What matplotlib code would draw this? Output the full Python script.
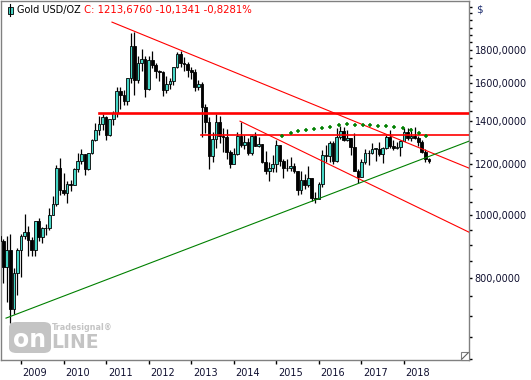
#Gold USD/OZ monthly candles-----------------------------
import matplotlib
matplotlib.use('Agg')
import matplotlib.pyplot as plt
from matplotlib.patches import Rectangle, FancyBboxPatch
from matplotlib.ticker import FixedLocator, NullFormatter

#data------------------------------------------
start_year = 2008.5          # first candle = Jul 2008
opens = [928, 913, 833, 884, 717, 815,
         884, 928, 942, 916, 884, 979, 927, 955, 955, 1003, 1040, 1182,
         1096, 1081, 1118, 1113, 1179, 1213, 1244, 1181, 1248, 1308, 1357, 1386,
         1421, 1332, 1410, 1439, 1556, 1536, 1500, 1628, 1826, 1620, 1722, 1746,
         1565, 1738, 1709, 1669, 1664, 1560, 1598, 1614, 1692, 1773, 1719, 1713,
         1675, 1663, 1578, 1597, 1472, 1393, 1234, 1312, 1396, 1327, 1323, 1253,
         1202, 1244, 1326, 1284, 1296, 1250, 1327, 1282, 1287, 1210, 1172, 1182,
         1199, 1283, 1213, 1183, 1183, 1190, 1172, 1095, 1134, 1115, 1142, 1065,
         1061, 1118, 1238, 1233, 1293, 1215, 1322, 1351, 1309, 1316, 1277, 1173,
         1146, 1211, 1249, 1249, 1268, 1268, 1242, 1269, 1322, 1280, 1271, 1275,
         1303, 1345, 1318, 1325, 1315, 1298, 1253, 1224]
highs = [988, 920, 930, 935, 830, 890,
         935, 1006, 963, 925, 981, 990, 960, 970, 1025, 1070, 1196, 1227,
         1162, 1130, 1135, 1183, 1249, 1265, 1245, 1250, 1310, 1388, 1424, 1432,
         1424, 1411, 1447, 1576, 1577, 1561, 1632, 1913, 1921, 1764, 1804, 1763,
         1764, 1791, 1718, 1678, 1669, 1641, 1627, 1693, 1788, 1796, 1755, 1723,
         1697, 1684, 1617, 1605, 1488, 1417, 1347, 1434, 1424, 1362, 1361, 1261,
         1270, 1345, 1392, 1331, 1315, 1332, 1345, 1322, 1287, 1256, 1208, 1239,
         1307, 1284, 1220, 1224, 1232, 1205, 1173, 1170, 1157, 1191, 1142, 1088,
         1128, 1263, 1283, 1304, 1304, 1362, 1375, 1367, 1353, 1318, 1338, 1180,
         1220, 1264, 1262, 1295, 1272, 1296, 1275, 1331, 1357, 1306, 1299, 1306,
         1366, 1362, 1365, 1369, 1326, 1309, 1265, 1227]
lows = [908, 786, 736, 681, 705, 753,
        802, 920, 866, 865, 867, 914, 905, 931, 949, 1001, 1033, 1075,
        1075, 1044, 1089, 1113, 1165, 1200, 1155, 1175, 1243, 1305, 1330, 1357,
        1308, 1324, 1381, 1418, 1462, 1478, 1478, 1603, 1535, 1600, 1670, 1523,
        1564, 1687, 1627, 1613, 1527, 1547, 1565, 1591, 1691, 1692, 1672, 1635,
        1626, 1555, 1562, 1321, 1339, 1180, 1208, 1271, 1292, 1251, 1221, 1182,
        1202, 1240, 1277, 1268, 1240, 1241, 1281, 1273, 1206, 1160, 1131, 1167,
        1167, 1191, 1142, 1170, 1170, 1162, 1077, 1080, 1098, 1107, 1052, 1046,
        1062, 1107, 1208, 1208, 1200, 1207, 1310, 1302, 1305, 1241, 1171, 1123,
        1145, 1201, 1195, 1243, 1214, 1236, 1205, 1267, 1271, 1261, 1264, 1236,
        1302, 1307, 1303, 1310, 1282, 1250, 1211, 1205]
closes = [913, 833, 884, 717, 815, 884,
          928, 942, 916, 884, 979, 927, 955, 955, 1003, 1040, 1182, 1096,
          1081, 1118, 1113, 1179, 1213, 1244, 1181, 1248, 1308, 1357, 1386, 1421,
          1332, 1410, 1439, 1556, 1536, 1500, 1628, 1826, 1620, 1722, 1746, 1565,
          1738, 1709, 1669, 1664, 1560, 1598, 1614, 1692, 1773, 1719, 1713, 1675,
          1663, 1578, 1597, 1472, 1393, 1234, 1312, 1396, 1327, 1323, 1253, 1202,
          1244, 1326, 1284, 1296, 1250, 1327, 1282, 1287, 1210, 1172, 1182, 1199,
          1283, 1213, 1183, 1183, 1190, 1172, 1095, 1134, 1115, 1142, 1065, 1061,
          1118, 1238, 1233, 1293, 1215, 1322, 1351, 1309, 1316, 1277, 1173, 1146,
          1211, 1249, 1249, 1268, 1268, 1242, 1269, 1322, 1280, 1271, 1275, 1303,
          1345, 1318, 1325, 1315, 1298, 1253, 1224, 1214]

# trend lines (year, price)
res_line = [(2011.138, 1988), (2019.527, 1183)]
res_line2 = [(2014.146, 1398), (2019.527, 942)]
sup_line = [(2008.648, 694), (2019.527, 1302)]
hline_top = (2010.833, 1439)
hline_mid = (2013.229, 1333)

# green "+" arc
arc_x = [2015.139, 2015.337, 2015.515, 2015.696, 2015.884, 2016.079, 2016.267,
         2016.465, 2016.653, 2016.841, 2017.029, 2017.207, 2017.395, 2017.583,
         2017.771, 2017.968, 2018.156, 2018.344, 2018.523]
arc_y = [1327, 1338, 1349, 1356, 1360, 1364, 1367, 1377, 1382, 1380, 1380,
         1379, 1375, 1374, 1369, 1363, 1353, 1342, 1325]

years = list(range(2009, 2019))
price_labels = [800, 1000, 1200, 1400, 1600, 1800]
#-----------------------------

W, H = 531, 380
fig = plt.figure(figsize=(W / 100, H / 100), dpi=100)
ax = fig.add_axes([1 / W, 20 / H, 468 / W, 359 / H])

up_col = '#46d6c6'
xs = [start_year + i / 12 for i in range(len(closes))]
bw = 0.75 / 12
for x, o, h, l, c in zip(xs, opens, highs, lows, closes):
    ax.vlines(x, l, h, color='black', lw=0.9, zorder=2)
    col = up_col if c >= o else 'black'
    ax.bar(x, abs(c - o) if abs(c - o) > 0 else 0.5, bottom=min(o, c), width=bw,
           color=col, edgecolor='black', lw=0.6, zorder=3)

ax.set_yscale('log')
ax.set_xlim(2008.530, 2019.527)
ax.set_ylim(598, 2143)

# lines
ax.plot([p[0] for p in res_line], [p[1] for p in res_line], color='#ff0000', lw=0.8, zorder=4)
ax.plot([p[0] for p in res_line2], [p[1] for p in res_line2], color='#ff0000', lw=0.8, zorder=4)
ax.plot([p[0] for p in sup_line], [p[1] for p in sup_line], color='#008000', lw=0.8, zorder=4)
ax.plot([hline_top[0], 2019.527], [hline_top[1]] * 2, color='#ff0000', lw=1.9, zorder=4)
ax.plot([hline_mid[0], 2019.527], [hline_mid[1]] * 2, color='#ff0000', lw=1.2, zorder=4)
ax.plot(arc_x, arc_y, ls='none', marker='+', ms=3.5, mew=1.1, color='#008000', zorder=5)

# axes styling
for s in ax.spines.values():
    s.set_color('#808080')
    s.set_linewidth(1)
ax.yaxis.tick_right()
ax.yaxis.set_major_locator(FixedLocator(price_labels))
ax.yaxis.set_minor_locator(FixedLocator([v for v in range(600, 2150, 50) if v not in price_labels]))
ax.yaxis.set_minor_formatter(NullFormatter())
ax.set_yticklabels([f'{v},0000' for v in price_labels])
ax.tick_params(axis='y', which='both', direction='out', length=2.5, width=1,
               color='black', labelsize=7, pad=1.5, labelcolor='#101030')
ax.set_xticks(years)
ax.set_xticklabels([])
ax.tick_params(axis='x', direction='out', length=3, width=1, color='black')
for yr in years:
    ax.text(yr + 0.04, -0.035, str(yr), transform=ax.get_xaxis_transform(),
            fontsize=7, ha='left', va='center', color='#101030')

# header
fy = 1 - 10 / H
fig.add_artist(matplotlib.lines.Line2D([10 / W, 10 / W], [1 - 4 / H, 1 - 16 / H], color='black', lw=0.8))
fig.add_artist(Rectangle((8 / W, 1 - 14 / H), 4.5 / W, 7 / H, facecolor=up_col,
                         edgecolor='black', lw=0.6, transform=fig.transFigure))
fig.text(17 / W, fy, 'Gold USD/OZ', fontsize=7, va='center', ha='left', color='black')
fig.text(84 / W, fy, 'C: 1213,6760 -10,1341 -0,8281%', fontsize=7.3, va='center',
         ha='left', color='#ff0000')
fig.text(476 / W, fy, '$', fontsize=7.5, va='center', ha='left', color='#203070')

# watermark
wm = '#c4c4c4'
fig.add_artist(FancyBboxPatch((9 / W, 1 - 353 / H), 42 / W, 31 / H,
                              boxstyle='round,pad=0,rounding_size=0.014',
                              facecolor=wm, edgecolor='none', transform=fig.transFigure))
fig.text(30 / W, 1 - 340 / H, 'on', fontsize=17, fontweight='bold', color='white',
         ha='center', va='center')
fig.text(51 / W, 1 - 342 / H, 'LINE', fontsize=13.5, fontweight='bold', color=wm,
         ha='left', va='center')
fig.text(52 / W, 1 - 328 / H, 'Tradesignal®', fontsize=5.8, fontweight='bold', color=wm,
         ha='left', va='center')

# resize grip
fig.add_artist(Rectangle((461 / W, 1 - 360 / H), 8 / W, 8 / H, facecolor='white',
                         edgecolor='#808080', lw=0.8, transform=fig.transFigure))
fig.add_artist(matplotlib.lines.Line2D([462 / W, 468 / W], [1 - 359 / H, 1 - 353 / H],
                                       color='#606060', lw=0.8))

plt.savefig('out.png', dpi=100)
